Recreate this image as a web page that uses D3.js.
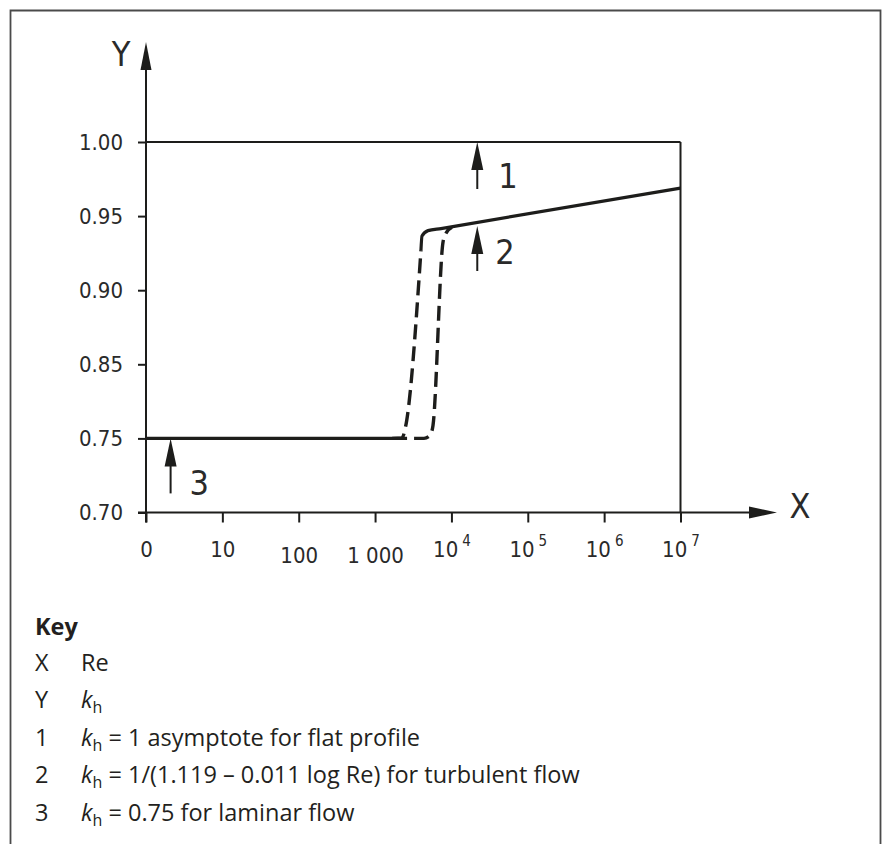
<!DOCTYPE html>
<html>
<head>
<meta charset="utf-8">
<script src="https://cdn.jsdelivr.net/npm/d3@7"></script>
<style>
  html, body { margin: 0; padding: 0; background: #fff; }
  svg { display: block; }
  .axis-font { font-family: "Liberation Sans Narrow", "DejaVu Sans Condensed", "Liberation Sans", sans-serif; }
  .key-font { font-family: "Open Sans", "Noto Sans", sans-serif; }
</style>
</head>
<body>
<svg id="chart" width="884" height="844"></svg>
<script>
// Reynolds-number ticks (log axis; the first tick is printed as "0")
const reTicks = [1, 10, 100, 1e3, 1e4, 1e5, 1e6, 1e7];
const reTickBase = ["0", "10", "100", "1 000", "10", "10", "10", "10"];
const reTickExp = ["", "", "", "", "4", "5", "6", "7"];

// k_h ticks (broken axis: 0.80 is skipped)
const khTicks = [0.70, 0.75, 0.85, 0.90, 0.95, 1.00];
const khTickLabels = ["0.70", "0.75", "0.85", "0.90", "0.95", "1.00"];

// Curves as [Re, k_h]
const laminar = [[1, 0.75], [1670, 0.75]];
const transitionEarly = [[1670, 0.75], [2250, 0.7505], [2500, 0.765], [3990, 0.927]];
const transitionLate = [[1670, 0.75], [4372, 0.75], [5240, 0.754], [5735, 0.7675],
                        [7755, 0.9324], [8490, 0.9385], [10170, 0.9425]];
const turbulent = [[3990, 0.927], [4115, 0.9365], [4930, 0.9402], [7300, 0.9416], [1e7, 0.9689]];
const flatAsymptote = [[1, 1.00], [1e7, 1.00]];

// Numbered callouts: [id, Re, k_h at the arrow tip]
const callouts = [["1", 21800, 1.00], ["2", 21800, 0.9433], ["3", 2.1, 0.75]];

// Key entries
const keyIds = ["X", "Y", "1", "2", "3"];
const keyTexts = ["Re", "", " = 1 asymptote for flat profile",
                  " = 1/(1.119 \u2013 0.011 log Re) for turbulent flow", " = 0.75 for laminar flow"];
const keyHasKh = [false, true, true, true, true];

const ink = "#1d1d1b";
const svg = d3.select("#chart");

// Page frame
svg.append("path")
  .attr("d", "M10.5,846V10.5H880.5V846")
  .attr("fill", "none").attr("stroke", "#4a4a4a").attr("stroke-width", 1.8);

// Scales
const plotLeft = 146, plotRight = 680.5, plotTop = 142, plotBottom = 512.5;
const x = d3.scaleLog().domain([1, 1e7]).range([plotLeft, plotRight]);
const step = (plotBottom - plotTop) / (khTicks.length - 1);
const y = d3.scaleLinear().domain(khTicks).range(khTicks.map((d, i) => plotBottom - i * step));

// Y axis
const yAxis = svg.append("g").attr("class", "axis-font")
  .attr("transform", `translate(${plotLeft},0)`)
  .call(d3.axisLeft(y).tickValues(khTicks).tickFormat((d, i) => khTickLabels[i])
    .tickSize(8).tickSizeOuter(0).tickPadding(15));
yAxis.select(".domain").remove();
yAxis.selectAll(".tick line").attr("stroke", ink).attr("stroke-width", 2);
yAxis.selectAll(".tick text").attr("font-size", 22).attr("fill", "#2a2a2a").attr("dy", "0.34em");

// X axis
const xAxis = svg.append("g").attr("class", "axis-font")
  .attr("transform", `translate(0,${plotBottom})`)
  .call(d3.axisBottom(x).tickValues(reTicks).tickFormat(() => "")
    .tickSize(10).tickSizeOuter(0));
xAxis.select(".domain").remove();
xAxis.selectAll(".tick line").attr("stroke", ink).attr("stroke-width", 2);
xAxis.selectAll(".tick text").each(function (d, i) {
  const t = d3.select(this)
    .attr("y", 0).attr("dy", null)
    .attr("font-size", 22).attr("fill", "#2a2a2a")
    .attr("text-anchor", "middle");
  const lowered = reTickBase[i].length >= 3 && !reTickExp[i];
  t.attr("transform", `translate(0,${lowered ? 50 : 44})`);
  t.append("tspan").text(reTickBase[i]);
  if (reTickExp[i]) {
    t.append("tspan").attr("dx", 4).attr("dy", -11).attr("font-size", 15).text(reTickExp[i]);
  }
});

// Axis lines with arrowheads
function arrowHead(g, tipX, tipY, dir, len, half) {
  let d;
  if (dir === "up") d = `M${tipX},${tipY}L${tipX - half},${tipY + len}L${tipX + half},${tipY + len}Z`;
  else d = `M${tipX},${tipY}L${tipX - len},${tipY - half}L${tipX - len},${tipY + half}Z`;
  g.append("path").attr("d", d).attr("fill", ink);
}
const axes = svg.append("g");
axes.append("line").attr("x1", plotLeft).attr("x2", plotLeft)
  .attr("y1", plotBottom + 10).attr("y2", 60)
  .attr("stroke", ink).attr("stroke-width", 2);
arrowHead(axes, plotLeft, 42, "up", 28, 5.5);
axes.append("line").attr("x1", plotLeft - 8).attr("x2", 760)
  .attr("y1", plotBottom).attr("y2", plotBottom)
  .attr("stroke", ink).attr("stroke-width", 2);
arrowHead(axes, 777, plotBottom, "right", 28, 6);

svg.append("text").attr("class", "axis-font")
  .attr("x", 121).attr("y", 66).attr("text-anchor", "middle")
  .attr("font-size", 34).attr("fill", "#2a2a2a").text("Y");
svg.append("text").attr("class", "axis-font")
  .attr("x", 800).attr("y", 518).attr("text-anchor", "middle")
  .attr("font-size", 34).attr("fill", "#2a2a2a").text("X");

// Plot box: k_h = 1 asymptote on top, Re = 10^7 on the right
const line = d3.line().x(d => x(d[0])).y(d => y(d[1]));
svg.append("path").datum(flatAsymptote).attr("d", line)
  .attr("fill", "none").attr("stroke", ink).attr("stroke-width", 2.2);
svg.append("line").attr("x1", x(1e7)).attr("x2", x(1e7))
  .attr("y1", y(1.00)).attr("y2", y(0.70))
  .attr("stroke", ink).attr("stroke-width", 2);

// Curves
const smooth = d3.line().x(d => x(d[0])).y(d => y(d[1])).curve(d3.curveMonotoneX);
svg.append("path").datum(laminar).attr("d", line)
  .attr("fill", "none").attr("stroke", ink).attr("stroke-width", 3.2);
[transitionEarly, transitionLate].forEach(c => {
  svg.append("path").datum(c).attr("d", smooth)
    .attr("fill", "none").attr("stroke", ink).attr("stroke-width", 3.4)
    .attr("stroke-dasharray", "15,7");
});
svg.append("path").datum(turbulent).attr("d", smooth)
  .attr("fill", "none").attr("stroke", ink).attr("stroke-width", 3.2)
  .attr("stroke-linejoin", "round");

// Callout arrows and numbers
const calloutLayout = { "1": { len: 47, dx: 21, base: 46 },
                        "2": { len: 45, dx: 18, base: 38 },
                        "3": { len: 55, dx: 19, base: 57 } };
callouts.forEach(([id, re, kh]) => {
  const cx = x(re), cy = y(kh), L = calloutLayout[id];
  svg.append("line").attr("x1", cx).attr("x2", cx)
    .attr("y1", cy + 20).attr("y2", cy + L.len)
    .attr("stroke", ink).attr("stroke-width", 2);
  arrowHead(svg, cx, cy, "up", 28, 6);
  svg.append("text").attr("class", "axis-font")
    .attr("x", cx + L.dx).attr("y", cy + L.base)
    .attr("font-size", 34).attr("fill", "#2a2a2a").text(id);
});

// Key
const key = svg.append("g").attr("class", "key-font").attr("fill", "#231f20").attr("font-size", 23.5);
key.append("text").attr("x", 35).attr("y", 635).attr("font-weight", "bold").text("Key");
keyIds.forEach((id, i) => {
  const yy = 670.5 + i * 37.5;
  key.append("text").attr("x", 35).attr("y", yy).text(id);
  const t = key.append("text").attr("x", 81).attr("y", yy);
  if (keyHasKh[i]) {
    t.append("tspan").attr("font-style", "italic").text("k");
    t.append("tspan").attr("font-size", 16).attr("dy", 5).text("h");
    t.append("tspan").attr("dy", -5).text(keyTexts[i]);
  } else {
    t.text(keyTexts[i]);
  }
});
</script>
</body>
</html>
